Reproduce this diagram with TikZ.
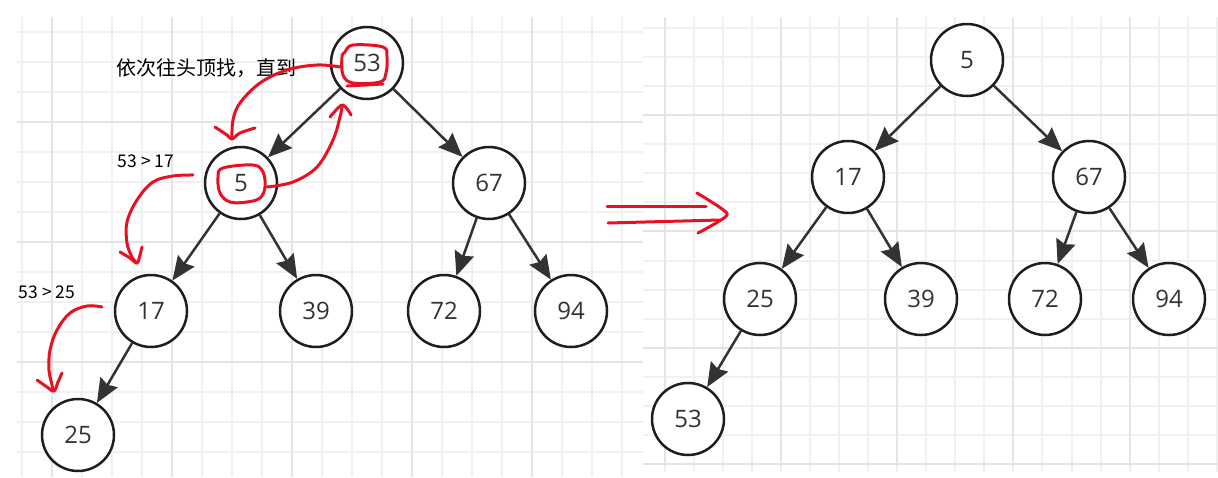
\documentclass[tikz,border=0pt]{standalone}
\usepackage{fontspec}
\setmainfont{Open Sans}
\newfontfamily\cjk{Noto Sans CJK SC}
\usetikzlibrary{arrows.meta}
\definecolor{redpen}{RGB}{232,17,35}
\definecolor{gridminor}{RGB}{240,240,240}
\definecolor{gridmajor}{RGB}{228,228,228}
\definecolor{nodeline}{RGB}{30,30,30}
\definecolor{edgecol}{RGB}{51,51,51}
\definecolor{numtext}{RGB}{51,51,51}
\begin{document}
\begin{tikzpicture}[x=1pt,y=-1pt,
  treenode/.style={circle, draw=nodeline, line width=2.5pt, fill=white, minimum size=72pt, inner sep=0pt, text=numtext, font=\fontsize{24}{28}\selectfont},
  edge/.style={draw=edgecol, line width=2.5pt, -{Stealth[length=24pt,width=20pt,inset=3pt]}},
  pen/.style={draw=redpen, line width=3pt, line cap=round, line join=round},
  minorline/.style={draw=gridminor, line width=2pt},
  majorline/.style={draw=gridmajor, line width=2pt},
  note/.style={font=\cjk\fontsize{17.5}{20}\selectfont, text=black, inner sep=0pt},
  bignote/.style={font=\cjk\fontsize{20}{24}\selectfont, text=black, inner sep=0pt}
]
\useasboundingbox (0,0) rectangle (1218,477);
\fill[white] (0,0) rectangle (1218,477);
% left grid
\begin{scope}
\clip (17,17) rectangle (643,477);
\foreach \k in {0,...,20} { \draw[minorline] (22+30*\k,17) -- (22+30*\k,477); }
\foreach \k in {0,...,14} { \draw[minorline] (17,32+30*\k) -- (643,32+30*\k); }
\foreach \k in {0,...,4} { \draw[majorline] (52+120*\k,17) -- (52+120*\k,477); }
\foreach \k in {0,1,2} { \draw[majorline] (17,122+120*\k) -- (643,122+120*\k); }
\end{scope}
% right grid
\begin{scope}
\clip (643,17) rectangle (1218,466);
\foreach \k in {-4,...,15} { \draw[minorline] (781+29.05*\k,17) -- (781+29.05*\k,466); }
\foreach \k in {-3,...,12} { \draw[minorline] (643,115+29.1*\k) -- (1218,115+29.1*\k); }
\foreach \k in {-1,...,3} { \draw[majorline] (781+116.2*\k,17) -- (781+116.2*\k,466); }
\foreach \k in {0,...,3} { \draw[majorline] (643,115+116.4*\k) -- (1218,115+116.4*\k); }
\end{scope}
\foreach \k in {-4,...,15} { \draw[minorline] (781+29.05*\k,466) -- (781+29.05*\k,472); }

% left tree
\node[treenode] (L53) at (367,63) {53};
\node[treenode] (L5) at (241,183) {5};
\node[treenode] (L67) at (489,183) {67};
\node[treenode] (L17) at (151,311) {17};
\node[treenode] (L39) at (316,311) {39};
\node[treenode] (L72) at (444,311) {72};
\node[treenode] (L94) at (571,311) {94};
\node[treenode] (L25) at (78,435) {25};
\draw[edge] (L53) -- (L5);
\draw[edge] (L53) -- (L67);
\draw[edge] (L5) -- (L17);
\draw[edge] (L5) -- (L39);
\draw[edge] (L67) -- (L72);
\draw[edge] (L67) -- (L94);
\draw[edge] (L17) -- (L25);

% right tree
\node[treenode] (R5) at (967,60) {5};
\node[treenode] (R17) at (848,177) {17};
\node[treenode] (R67) at (1089,177) {67};
\node[treenode] (R25) at (760,299) {25};
\node[treenode] (R39) at (921,299) {39};
\node[treenode] (R72) at (1045,299) {72};
\node[treenode] (R94) at (1169,299) {94};
\node[treenode] (R53) at (688,419) {53};
\draw[edge] (R5) -- (R17);
\draw[edge] (R5) -- (R67);
\draw[edge] (R17) -- (R25);
\draw[edge] (R17) -- (R39);
\draw[edge] (R67) -- (R72);
\draw[edge] (R67) -- (R94);
\draw[edge] (R25) -- (R53);

% labels
\node[bignote] (t1) at (206,68) {依次往头顶找，直到};
\node[note] (t2) at (146,161) {53 > 17};
\node[note] (t3) at (47,292) {53 > 25};

% red annotations
\draw[pen] plot[smooth cycle, tension=0.6] coordinates {(345,52) (353,45) (383,47) (387,57) (386,73) (380,82) (353,83) (343,75) (342,57)};
\draw[pen] plot[smooth, tension=0.6] coordinates {(347,86) (365,85) (383,84)};
\draw[pen] plot[smooth cycle, tension=0.6] coordinates {(223,168) (253,165) (263,172) (265,187) (260,198) (247,202) (230,202) (220,193) (218,177)};
\draw[pen] plot[smooth, tension=0.6] coordinates {(340,67) (317,65) (287,70) (260,83) (240,103) (233,120) (232,138)};
\draw[pen] plot[smooth, tension=0.6] coordinates {(215,127) (227,135) (232,139) (240,133) (255,128)};
\draw[pen] plot[smooth, tension=0.6] coordinates {(267,187) (293,182) (317,167) (333,140) (340,117) (342,107)};
\draw[pen] plot[smooth, tension=0.6] coordinates {(330,117) (338,108) (343,105) (348,110) (351,115)};
\draw[pen] plot[smooth, tension=0.6] coordinates {(193,175) (173,176) (153,182) (137,200) (127,222) (127,243) (132,257) (137,263)};
\draw[pen] plot[smooth, tension=0.6] coordinates {(120,252) (130,258) (137,263) (140,255) (142,247)};
\draw[pen] plot[smooth, tension=0.6] coordinates {(102,307) (87,306) (70,313) (57,330) (50,350) (49,370) (52,385) (53,390)};
\draw[pen] plot[smooth, tension=0.6] coordinates {(37,380) (47,387) (54,391) (58,382) (62,373)};
\draw[pen] (607,206) -- (706,206);
\draw[pen] (608,223) -- (720,220);
\draw[pen] plot[smooth, tension=0.6] coordinates {(697,193) (710,201) (722,209) (727,215) (716,223) (698,233)};
\end{tikzpicture}
\end{document}
